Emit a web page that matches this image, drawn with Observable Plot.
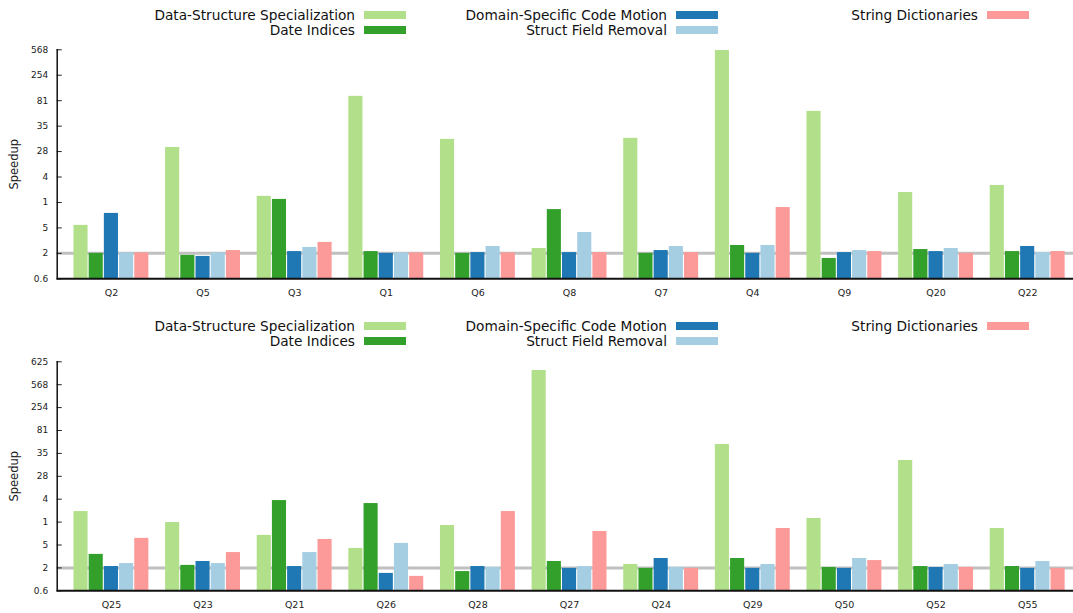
<!DOCTYPE html>
<html>
<head>
<meta charset="utf-8">
<script src="https://cdn.jsdelivr.net/npm/d3@7"></script>
<script src="https://cdn.jsdelivr.net/npm/@observablehq/plot@0.6"></script>
<style>
  body { margin: 0; background: #fff; font-family: "DejaVu Sans", sans-serif; }
  .panel { position: relative; width: 1073px; }
  .legend { position: relative; width: 1073px; }
  .legend .name { position: absolute; white-space: nowrap; font-size: 13.7px; color: #111; transform: translate(-100%, -50%); line-height: 1; }
  .legend .swatch { position: absolute; width: 42px; height: 8px; transform: translateY(-50%); }
  svg { display: block; }
  g[aria-label="y-axis tick label"] { font-size: 9px; }
  g[aria-label="x-axis tick label"] { font-size: 9.5px; }
  g[aria-label="y-axis label"] { font-size: 11.5px; }
</style>
</head>
<body>
<div id="chart"></div>
<script>
// Optimisation series, shared by both panels
const seriesNames = ["Data-Structure Specialization", "Date Indices", "Domain-Specific Code Motion", "Struct Field Removal", "String Dictionaries"];
const seriesColors = ["#b2df8a", "#33a02c", "#1f78b4", "#a6cee3", "#fb9a99"];

// Upper panel: queries, axis tick labels and bar heights (in tick steps)
const queriesTop = ["Q2", "Q5", "Q3", "Q1", "Q6", "Q8", "Q7", "Q4", "Q9", "Q20", "Q22"];
const ticksTop = ["0.6", "2", "5", "1", "4", "28", "35", "81", "254", "568"];
const dsTop   = [2.10, 5.16, 3.24, 7.17, 5.48, 1.19, 5.52, 8.97, 6.58, 3.39, 3.67];
const diTop   = [1.00, 0.92, 3.12, 1.07, 1.00, 2.72, 1.00, 1.31, 0.80, 1.15, 1.07];
const dscmTop = [2.57, 0.88, 1.07, 1.00, 1.03, 1.03, 1.11, 1.00, 1.03, 1.07, 1.27];
const sfrTop  = [1.02, 1.02, 1.23, 1.02, 1.27, 1.82, 1.27, 1.31, 1.11, 1.19, 1.03];
const sdTop   = [1.02, 1.11, 1.43, 1.02, 1.02, 1.03, 1.03, 2.80, 1.07, 1.00, 1.07];

// Lower panel
const queriesBottom = ["Q25", "Q23", "Q21", "Q26", "Q28", "Q27", "Q24", "Q29", "Q50", "Q52", "Q55"];
const ticksBottom = ["0.6", "2", "5", "1", "4", "28", "35", "81", "254", "568", "625"];
const dsBottom   = [3.46, 2.98, 2.42, 1.85, 2.85, 9.62, 1.15, 6.39, 3.16, 5.69, 2.72];
const diBottom   = [1.59, 1.11, 3.94, 3.81, 0.84, 1.28, 0.98, 1.41, 1.02, 1.06, 1.06];
const dscmBottom = [1.06, 1.28, 1.06, 0.76, 1.06, 0.98, 1.41, 0.98, 0.98, 1.02, 0.98];
const sfrBottom  = [1.19, 1.19, 1.67, 2.07, 1.02, 1.06, 1.02, 1.15, 1.41, 1.15, 1.28];
const sdBottom   = [2.29, 1.67, 2.24, 0.63, 3.46, 2.59, 0.98, 2.72, 1.32, 1.02, 0.98];

// Baseline reference level (the "2" tick)
const referenceLevel = 1;

const W = 1073;
const axisLeft = 56.7;
const bandStart = 65.1;
const barWidth = 14.1;
const barPitch = 15.2;

function legend(rowY) {
  const div = document.createElement("div");
  div.className = "legend";
  div.style.height = (rowY[1] + 10) + "px";
  const colRight = [355, 667, 978];
  seriesNames.forEach((name, i) => {
    const col = Math.floor(i / 2), row = i % 2;
    const t = document.createElement("div");
    t.className = "name";
    t.textContent = name;
    t.style.left = colRight[col] + "px";
    t.style.top = (rowY[row] + 0.8) + "px";
    const s = document.createElement("div");
    s.className = "swatch";
    s.style.left = (colRight[col] + 9) + "px";
    s.style.top = rowY[row] + "px";
    s.style.background = seriesColors[i];
    div.append(t, s);
  });
  return div;
}

function panel({queries, ticks, values, height, marginTop, marginBottom}) {
  const step = (W - bandStart) / queries.length;
  const n = values.length;
  const barMarks = values.map((vals, i) => {
    const rows = queries.map((q, j) => ({query: q, value: vals[j]}));
    const c = (i - (n - 1) / 2) * barPitch;
    const side = (step - barWidth) / 2;
    return Plot.barY(rows, {
      x: "query", y: "value", fill: seriesColors[i],
      insetLeft: side + c, insetRight: side - c
    });
  });
  return Plot.plot({
    width: W, height,
    marginLeft: axisLeft, marginRight: 0, marginTop, marginBottom,
    style: {fontFamily: "DejaVu Sans, sans-serif", fontSize: "10px", color: "#222", background: "#fff"},
    x: {type: "band", domain: queries, range: [bandStart, W], padding: 0, round: false},
    y: {domain: [0, ticks.length - 1]},
    marks: [
      Plot.ruleY([referenceLevel], {stroke: "#c0c0c0", strokeWidth: 3}),
      ...barMarks,
      Plot.axisX({tickSize: 0, tickPadding: 10, label: null}),
      Plot.axisY(d3.range(ticks.length), {
        tickFormat: i => ticks[i], tickSize: -5, tickPadding: 14,
        label: "Speedup", labelAnchor: "center", labelArrow: "none", labelOffset: 47
      }),
      Plot.frame({anchor: "left", stroke: "#111", strokeWidth: 1.5}),
      Plot.ruleY([0], {stroke: "#111", strokeWidth: 2})
    ]
  });
}

const root = document.getElementById("chart");

const upperPanel = document.createElement("div");
upperPanel.className = "panel";
upperPanel.append(legend([15, 30]));
upperPanel.append(panel({
  queries: queriesTop, ticks: ticksTop,
  values: [dsTop, diTop, dscmTop, sfrTop, sdTop],
  height: 265, marginTop: 9.3, marginBottom: 26.7
}));

const lowerPanel = document.createElement("div");
lowerPanel.className = "panel";
lowerPanel.append(legend([21.3, 36]));
lowerPanel.append(panel({
  queries: queriesBottom, ticks: ticksBottom,
  values: [dsBottom, diBottom, dscmBottom, sfrBottom, sdBottom],
  height: 263, marginTop: 10.3, marginBottom: 23.7
}));

root.append(upperPanel, lowerPanel);
</script>
</body>
</html>
